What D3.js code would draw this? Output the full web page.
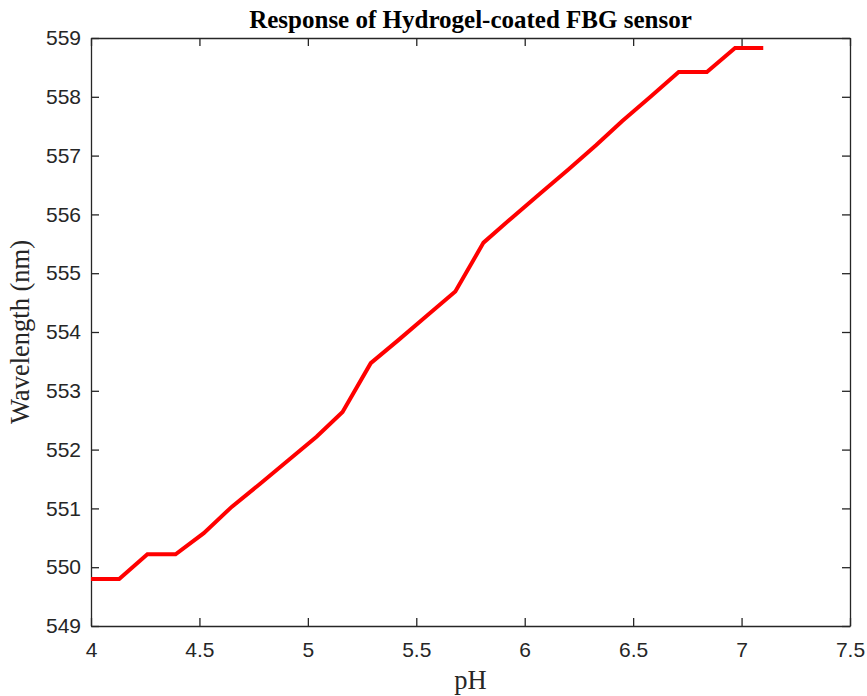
<!DOCTYPE html>
<html>
<head>
<meta charset="utf-8">
<script src="https://cdn.jsdelivr.net/npm/d3@7"></script>
<style>
  body { margin: 0; background: #fff; }
  .tick text { font-family: "Liberation Sans", Arial, sans-serif; font-size: 21px; fill: #262626; }
  .axis path, .axis line { stroke: #262626; stroke-width: 1.3; }
</style>
</head>
<body>
<div id="plot"></div>
<script>
var margin = { top: 38, right: 17, bottom: 70, left: 91 }
  , width = 867 - margin.left - margin.right
  , height = 696 - margin.top - margin.bottom

// pH steps and measured Bragg wavelength
var ph = [4.00, 4.13, 4.26, 4.39, 4.52, 4.65, 4.78, 4.91, 5.04, 5.16, 5.29, 5.42,
          5.55, 5.68, 5.81, 5.94, 6.07, 6.20, 6.33, 6.45, 6.58, 6.71, 6.84, 6.97, 7.10]
var wavelength = [549.80, 549.80, 550.22, 550.22, 550.58, 551.03, 551.42, 551.82, 552.22,
                  552.64, 553.47, 553.87, 554.28, 554.69, 555.52, 555.94, 556.35, 556.76,
                  557.18, 557.59, 558.00, 558.42, 558.42, 558.83, 558.83]
var xTicks = [4, 4.5, 5, 5.5, 6, 6.5, 7, 7.5]
var yTicks = [549, 550, 551, 552, 553, 554, 555, 556, 557, 558, 559]

var svg = d3.select("#plot")
  .append("svg")
  .attr("width", 867)
  .attr("height", 696)
  .append("g")
  .attr("transform", "translate(" + margin.left + "," + margin.top + ")")

var xScale = d3.scaleLinear().domain([4, 7.5]).range([0, width])
var yScale = d3.scaleLinear().domain([549, 559]).range([height, 0])

// box: top and right edges with inward ticks
svg.append("g")
  .attr("class", "axis")
  .call(d3.axisTop(xScale).tickValues(xTicks).tickSizeInner(-8).tickSizeOuter(0).tickFormat(""))
svg.append("g")
  .attr("class", "axis")
  .attr("transform", "translate(" + width + ",0)")
  .call(d3.axisRight(yScale).tickValues(yTicks).tickSizeInner(-8).tickSizeOuter(0).tickFormat(""))

svg.append("g")
  .attr("class", "x axis")
  .attr("transform", "translate(0," + height + ")")
  .call(d3.axisBottom(xScale).tickValues(xTicks).tickSizeInner(-8).tickSizeOuter(0).tickPadding(16).tickFormat(d3.format("")))

svg.append("g")
  .attr("class", "y axis")
  .call(d3.axisLeft(yScale).tickValues(yTicks).tickSizeInner(-8).tickSizeOuter(0).tickPadding(10))

svg.selectAll(".axis .domain").attr("stroke", "#262626")

var line = d3.line()
  .x((d, i) => xScale(ph[i]))
  .y(d => yScale(d))

svg.append("path")
  .datum(wavelength)
  .attr("fill", "none")
  .attr("stroke", "#ff0000")
  .attr("stroke-width", 4)
  .attr("stroke-linejoin", "miter")
  .attr("d", line)

svg.append("text")
  .attr("x", width / 2)
  .attr("y", -10)
  .attr("text-anchor", "middle")
  .style("font-family", "'Liberation Serif', 'Times New Roman', serif")
  .style("font-weight", "bold")
  .style("font-size", "25px")
  .text("Response of Hydrogel-coated FBG sensor")

svg.append("text")
  .attr("x", width / 2)
  .attr("y", height + 63)
  .attr("text-anchor", "middle")
  .style("font-family", "'Liberation Serif', 'Times New Roman', serif")
  .style("font-size", "26.5px")
  .style("fill", "#262626")
  .text("pH")

svg.append("text")
  .attr("transform", "translate(-62," + (height / 2) + ") rotate(-90)")
  .attr("text-anchor", "middle")
  .style("font-family", "'Liberation Serif', 'Times New Roman', serif")
  .style("font-size", "26.5px")
  .style("fill", "#262626")
  .text("Wavelength (nm)")
</script>
</body>
</html>
